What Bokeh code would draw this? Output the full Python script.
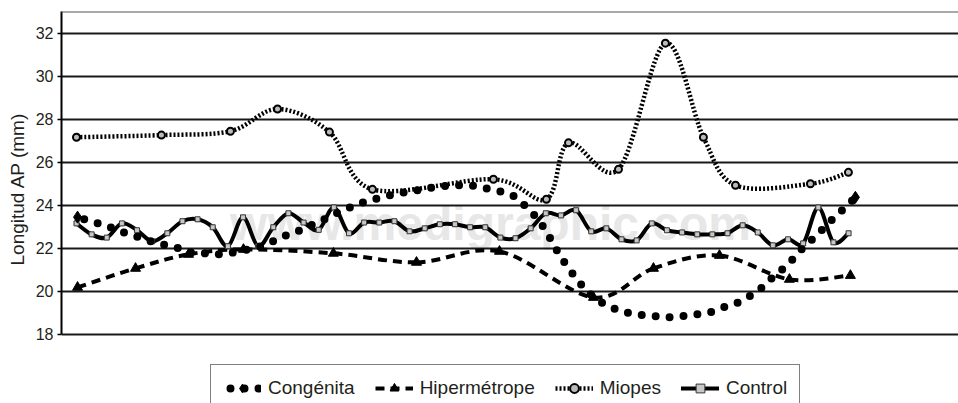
from bokeh.plotting import figure
from bokeh.models import (Range1d, FixedTicker, Label, Span, Legend, LegendItem,
                          ColumnDataSource, Title)
from bokeh.embed import file_html
from bokeh.resources import INLINE

# ---------------- data ----------------
y_ticks = [18, 20, 22, 24, 26, 28, 30, 32]

control_x = list(range(52))
control_y = [23.16, 22.65, 22.50, 23.16, 22.84, 22.33, 22.70, 23.26, 23.35, 22.98,
             22.10, 23.44, 22.10, 22.98, 23.63, 23.20, 22.86, 23.90, 22.70, 23.20,
             23.20, 23.26, 22.79, 22.93, 23.12, 23.12, 22.98, 22.98, 22.50, 22.47,
             22.93, 23.63, 23.53, 23.77, 22.79, 22.93, 22.42, 22.37, 23.16, 22.84,
             22.74, 22.65, 22.65, 22.70, 23.07, 22.74, 22.14, 22.42, 22.23, 23.90,
             22.28, 22.70]

miopes_x = [0.0, 5.61, 10.17, 13.28, 16.71, 19.55, 27.54, 31.04, 32.50, 35.80,
            38.90, 41.41, 43.53, 48.48, 50.99]
miopes_y = [27.16, 27.26, 27.44, 28.47, 27.40, 24.74, 25.21, 24.28, 26.90, 25.67,
            31.53, 27.16, 24.93, 25.00, 25.53]

hiper_x = [0.07, 3.90, 7.40, 11.03, 16.97, 22.46, 27.94, 34.15, 38.11, 42.47, 47.09, 51.12]
hiper_y = [20.19, 21.07, 21.72, 21.95, 21.77, 21.35, 21.86, 19.72, 21.07, 21.67, 20.56, 20.74]

cong_x = [0.07, 0.92, 1.92, 2.84, 3.76, 4.69, 5.61, 6.54, 7.46, 8.45, 9.38, 10.37,
          11.29, 12.22, 13.14, 14.00, 14.93, 15.79, 16.64, 17.57, 18.43, 19.29, 20.21,
          21.20, 22.19, 23.12, 24.11, 25.03, 26.02, 27.01, 27.94, 28.80, 29.59, 30.32,
          30.85, 31.37, 31.84, 32.36, 32.96, 33.55, 34.15, 35.01, 36.00, 36.92, 37.91,
          38.90, 39.83, 40.82, 41.74, 42.73, 43.59, 44.45, 45.31, 45.97, 46.70, 47.36,
          48.02, 48.75, 49.41, 50.13, 50.86, 51.45]
cong_y = [23.45, 23.26, 23.07, 22.80, 22.60, 22.37, 22.19, 22.05, 21.81, 21.77, 21.72,
          21.81, 21.95, 22.10, 22.37, 22.65, 22.88, 23.16, 23.44, 23.77, 24.00, 24.23,
          24.37, 24.56, 24.65, 24.79, 24.88, 24.93, 24.93, 24.79, 24.65, 24.47, 24.00,
          23.49, 22.98, 22.37, 21.77, 21.21, 20.65, 20.14, 19.72, 19.35, 19.07, 18.93,
          18.88, 18.79, 18.84, 18.93, 19.00, 19.26, 19.44, 19.77, 20.19, 20.65, 21.07,
          21.53, 22.05, 22.51, 22.98, 23.49, 23.95, 24.37]

labels = ["Congénita", "Hipermétrope", "Miopes", "Control"]
y_title = "Longitud AP (mm)"
watermark = "www.medigraphic.com"

FONT = "Liberation Sans"
INK = "#231f20"


def smooth_source(xs, ys):
    """Cubic Bezier segments passing through every data point (smoothed line)."""
    n = len(xs)
    d = {k: [] for k in ("x0", "y0", "x1", "y1", "cx0", "cy0", "cx1", "cy1")}
    for i in range(n - 1):
        xa, ya, xb, yb = xs[i], ys[i], xs[i + 1], ys[i + 1]
        xp, yp = (xs[i - 1], ys[i - 1]) if i > 0 else (xa, ya)
        xn, yn = (xs[i + 2], ys[i + 2]) if i + 2 < n else (xb, yb)
        d["x0"].append(xa); d["y0"].append(ya)
        d["x1"].append(xb); d["y1"].append(yb)
        d["cx0"].append(xa + (xb - xp) / 6.0); d["cy0"].append(ya + (yb - yp) / 6.0)
        d["cx1"].append(xb - (xn - xa) / 6.0); d["cy1"].append(yb - (yn - ya) / 6.0)
    return ColumnDataSource(d)


# frame runs from the top line (33) down to the page bottom, so the legend
# can sit inside it; the axis line itself is bounded to 18..33
p = figure(width=958, height=403, output_backend="svg", toolbar_location=None,
           x_range=Range1d(-0.99, 58.26), y_range=Range1d(14.795, 33),
           min_border_left=61, min_border_right=0, min_border_top=11, min_border_bottom=0,
           background_fill_color="white", border_fill_color="white")
p.outline_line_color = None
p.xaxis.visible = False
p.xgrid.visible = False

yax = p.yaxis[0]
yax.ticker = FixedTicker(ticks=y_ticks)
yax.bounds = (18, 33)
yax.axis_line_color = "black"
yax.axis_line_width = 2
yax.major_tick_out = 4
yax.major_tick_in = 0
yax.major_tick_line_color = "black"
yax.major_tick_line_width = 1.5
yax.minor_tick_line_color = None
yax.major_label_standoff = 4
yax.major_label_text_font = FONT
yax.major_label_text_font_size = "16px"
yax.major_label_text_color = INK

p.ygrid.ticker = FixedTicker(ticks=y_ticks)
p.ygrid.grid_line_color = "black"
p.ygrid.grid_line_width = 2
p.ygrid.grid_line_alpha = 0.9

p.add_layout(Span(location=33, dimension="width", line_color="#555555", line_width=2))

# y axis title
p.add_layout(Title(text=y_title, align="left", offset=138, text_font=FONT,
                   text_font_size="19px", text_font_style="normal", text_color=INK,
                   standoff=9), "left")

# watermark
p.add_layout(Label(x=27.35, y=23.16, text=watermark, text_align="center",
                   text_baseline="alphabetic", text_font=FONT,
                   text_font_style="bold", text_font_size="48px",
                   text_color="#e7e7e7", level="image"))

# Hipermétrope
hs = smooth_source(hiper_x, hiper_y)
r_h_line = p.bezier(x0="x0", y0="y0", x1="x1", y1="y1", cx0="cx0", cy0="cy0",
                    cx1="cx1", cy1="cy1", source=hs, line_color="black", line_width=4,
                    line_dash="9 6")
r_h_mark = p.scatter(hiper_x, hiper_y, marker="triangle", size=10, color="black")

# Miopes
ms = smooth_source(miopes_x, miopes_y)
r_m_line = p.bezier(x0="x0", y0="y0", x1="x1", y1="y1", cx0="cx0", cy0="cy0",
                    cx1="cx1", cy1="cy1", source=ms, line_color="black", line_width=4.5,
                    line_dash="2 2")
r_m_mark = p.scatter(miopes_x, miopes_y, marker="circle", size=7, fill_color="#bbbbbb",
                     line_color="black", line_width=2)

# Control
cs = smooth_source(control_x, control_y)
r_c_line = p.bezier(x0="x0", y0="y0", x1="x1", y1="y1", cx0="cx0", cy0="cy0",
                    cx1="cx1", cy1="cy1", source=cs, line_color="black", line_width=4,
                    line_cap="round")
r_c_mark = p.scatter(control_x, control_y, marker="square", size=5, fill_color="#c8c8c8",
                     line_color="#333333", line_width=1)

# Congénita
r_g_line = p.line(cong_x, cong_y, line_color="black", line_width=8, line_dash="0 14",
                  line_dash_offset=7, line_cap="round")
r_g_mark = p.scatter([cong_x[0], cong_x[-1]], [cong_y[0], cong_y[-1]], marker="diamond",
                     size=12, color="black")

legend = Legend(items=[
    LegendItem(label=labels[0], renderers=[r_g_line, r_g_mark]),
    LegendItem(label=labels[1], renderers=[r_h_line, r_h_mark]),
    LegendItem(label=labels[2], renderers=[r_m_line, r_m_mark]),
    LegendItem(label=labels[3], renderers=[r_c_line, r_c_mark]),
], orientation="horizontal", location=(149, -9), margin=0, padding=12, spacing=20,
    glyph_width=38, glyph_height=22, label_standoff=7, label_text_font=FONT,
    label_text_font_size="19px", label_text_color=INK, border_line_color="black",
    border_line_width=1.5, background_fill_color="white", background_fill_alpha=1.0)
p.add_layout(legend)

open("out.html", "w").write(file_html(p, INLINE))
